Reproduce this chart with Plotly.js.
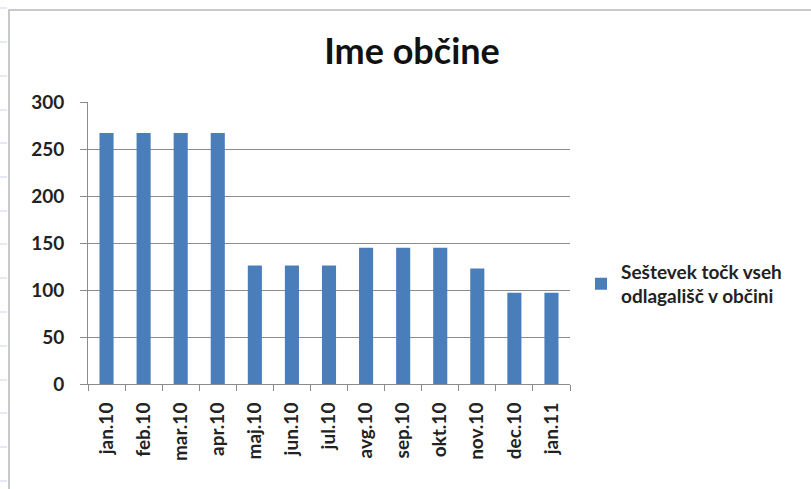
<!DOCTYPE html>
<html>
<head>
<meta charset="utf-8">
<script src="https://cdn.plot.ly/plotly-3.0.1.min.js"></script>
<style>html,body{margin:0;padding:0;background:#fff;}#chart{width:811px;height:489px;}</style>
</head>
<body>
<div id="chart"></div>
<script>
const months = ["jan.10","feb.10","mar.10","apr.10","maj.10","jun.10","jul.10","avg.10","sep.10","okt.10","nov.10","dec.10","jan.11"];
const values = [267, 267, 267, 267, 126, 126, 126, 145, 145, 145, 123, 97, 97];
const seriesName = "Seštevek točk vseh<br>odlagališč v občini";
const chartTitle = "Ime občine";
const yTicks = [0, 50, 100, 150, 200, 250, 300];

const W = 811, H = 489;
const L = 88, R = 570, T = 102, B = 384;
const pw = R - L, ph = B - T;
const px = x => (x - L) / pw;
const py = y => (B - y) / ph;

const shapes = [
  {type: 'rect', xref: 'paper', yref: 'paper', x0: px(9), x1: px(830), y0: py(10), y1: py(500),
   line: {color: '#b8b8b8', width: 1.5}, fillcolor: 'rgba(0,0,0,0)', layer: 'below'}
];
[8, 42, 76, 110, 143, 177, 211, 244, 278, 312, 346, 380, 413, 447, 481].forEach(y => {
  shapes.push({type: 'line', xref: 'paper', yref: 'paper', x0: px(0), x1: px(7), y0: py(y), y1: py(y),
    line: {color: '#c9d3e8', width: 1}});
});

const trace = {
  type: 'bar',
  x: months,
  y: values,
  name: seriesName,
  marker: {color: '#4a7ebb'},
  showlegend: true,
  hoverinfo: 'skip'
};

const font = "Lato, 'Open Sans', sans-serif";
const layout = {
  width: W, height: H,
  margin: {l: L, r: W - R, t: T, b: H - B, pad: 0},
  paper_bgcolor: '#ffffff',
  plot_bgcolor: '#ffffff',
  bargap: 0.62,
  showlegend: true,
  title: {text: chartTitle, font: {family: font, size: 36, color: '#111', weight: 'bold'},
          x: 412 / W, xanchor: 'center', y: 1 - 51 / H, yanchor: 'middle', xref: 'container', yref: 'container'},
  xaxis: {
    type: 'category',
    tickangle: -90,
    tickson: 'boundaries',
    ticks: 'outside', ticklen: 6, tickcolor: '#8c8c8c', tickwidth: 1,
    showline: true, linecolor: '#8c8c8c', linewidth: 1,
    showgrid: false,
    tickfont: {family: font, size: 19, color: '#222', weight: 'bold'},
    ticklabelstandoff: 10,
    fixedrange: true
  },
  yaxis: {
    range: [0, 300],
    tickvals: yTicks,
    ticktext: yTicks.map(String),
    ticks: 'outside', ticklen: 7, tickcolor: '#8c8c8c', tickwidth: 1,
    showline: true, linecolor: '#8c8c8c', linewidth: 1,
    showgrid: true, gridcolor: '#8c8c8c', gridwidth: 1,
    zeroline: false,
    tickfont: {family: font, size: 19, color: '#222', weight: 'bold'},
    ticklabelstandoff: 12,
    fixedrange: true
  },
  legend: {
    x: px(581), xanchor: 'left', y: py(284), yanchor: 'middle',
    font: {family: font, size: 19, color: '#222', weight: 'bold'},
    bgcolor: 'rgba(0,0,0,0)',
    itemwidth: 30
  },
  shapes: shapes
};

Plotly.newPlot('chart', [trace], layout, {displayModeBar: false, staticPlot: true});
</script>
</body>
</html>
